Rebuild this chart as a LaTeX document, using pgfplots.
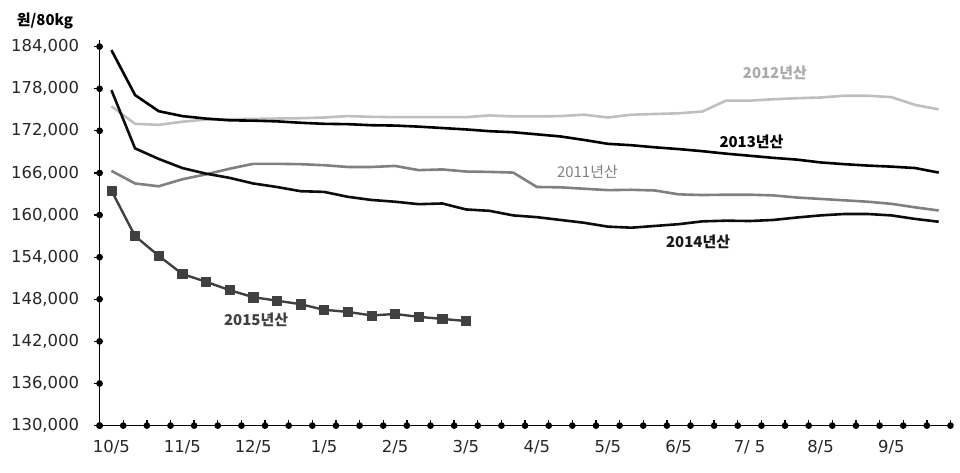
\documentclass[border=0pt]{standalone}
\usepackage{pgfplots}
\pgfplotsset{compat=1.18}
\usepackage{pgfplotstable}
\usepackage{fontspec}
\setmainfont{DejaVu Sans}
\newfontfamily\kr{Noto Sans CJK KR}
\definecolor{c11}{HTML}{808080}
\definecolor{c12}{HTML}{BFBFBF}
\definecolor{c12t}{HTML}{AAAAAA}
\definecolor{c13}{HTML}{000000}
\definecolor{c14}{HTML}{0D0D0D}
\definecolor{c15}{HTML}{404040}

\pgfplotstableread{
x y
0 166300
1 164500
2 164100
3 165100
4 165800
5 166600
6 167300
7 167300
8 167250
9 167100
10 166850
11 166850
12 167000
13 166400
14 166500
15 166200
16 166150
17 166050
18 164000
19 163950
20 163750
21 163550
22 163600
23 163500
24 162950
25 162850
26 162900
27 162900
28 162800
29 162500
30 162300
31 162100
32 161900
33 161600
34 161100
35 160650
}\tabA

\pgfplotstableread{
x y
0 175500
1 173000
2 172850
3 173300
4 173600
5 173650
6 173700
7 173750
8 173800
9 173900
10 174100
11 174000
12 173950
13 173950
14 173950
15 173950
16 174200
17 174050
18 174050
19 174100
20 174300
21 173900
22 174300
23 174400
24 174500
25 174750
26 176300
27 176300
28 176500
29 176650
30 176750
31 177000
32 177000
33 176800
34 175700
35 175050
}\tabB

\pgfplotstableread{
x y
0 183500
1 177100
2 174800
3 174100
4 173750
5 173500
6 173450
7 173350
8 173150
9 173000
10 172950
11 172800
12 172750
13 172600
14 172400
15 172200
16 171950
17 171800
18 171500
19 171200
20 170700
21 170150
22 169950
23 169650
24 169400
25 169100
26 168750
27 168450
28 168150
29 167900
30 167500
31 167250
32 167050
33 166900
34 166700
35 166050
}\tabC

\pgfplotstableread{
x y
0 177800
1 169500
2 168000
3 166700
4 165900
5 165300
6 164500
7 164000
8 163400
9 163300
10 162600
11 162150
12 161900
13 161550
14 161650
15 160800
16 160600
17 159950
18 159700
19 159300
20 158900
21 158350
22 158200
23 158450
24 158700
25 159100
26 159200
27 159150
28 159300
29 159650
30 159950
31 160150
32 160150
33 159950
34 159450
35 159050
}\tabD

\pgfplotstableread{
x y
0 163500
1 157000
2 154200
3 151600
4 150500
5 149300
6 148300
7 147800
8 147300
9 146500
10 146200
11 145700
12 145900
13 145500
14 145200
15 144900
}\tabE

\begin{document}
\begin{tikzpicture}
\useasboundingbox (0bp,0bp) rectangle (960bp,473bp);
\begin{axis}[
  at={(99.6bp,47.4bp)}, anchor=south west,
  scale only axis, width=850.9bp, height=386bp,
  xmin=-0.5, xmax=35.5, ymin=130000, ymax=185000,
  clip=false, scaled y ticks=false,
  axis x line*=bottom, axis y line*=left,
  axis line style={-, line width=0.9bp, black},
  xtick align=inside, ytick align=outside,
  major tick length=6bp,
  tick style={line width=1.3bp, black},
  xtick={-0.5,0.5,...,35.5},
  x tick label as interval,
  xticklabels={10/5,,,11/5,,,12/5,,,1/5,,,2/5,,,3/5,,,4/5,,,5/5,,,6/5,,,7/ 5,,,8/5,,,9/5,,,},
  ytick={130000,136000,142000,148000,154000,160000,166000,172000,178000,184000},
  yticklabels={{130,000},{136,000},{142,000},{148,000},{154,000},{160,000},{166,000},{172,000},{178,000},{184,000}},
  tick label style={font=\fontsize{16.5}{18}\selectfont, text=black!85},
  xticklabel style={yshift=-11bp},
  yticklabel style={xshift=-11bp},
  every axis plot/.append style={line width=2.6bp, line join=round},
]
% category boundary tick marks on the x axis (drawn as upward error bars from the axis line)
\addplot[forget plot, only marks, mark=none, error bars/.cd, y dir=plus, y explicit, error mark=none,
  error bar style={draw=black, line width=1.1bp, solid}]
coordinates {
(-0.5,130000) +- (0,850) (0.5,130000) +- (0,850) (1.5,130000) +- (0,850) (2.5,130000) +- (0,850)
(3.5,130000) +- (0,850) (4.5,130000) +- (0,850) (5.5,130000) +- (0,850) (6.5,130000) +- (0,850)
(7.5,130000) +- (0,850) (8.5,130000) +- (0,850) (9.5,130000) +- (0,850) (10.5,130000) +- (0,850)
(11.5,130000) +- (0,850) (12.5,130000) +- (0,850) (13.5,130000) +- (0,850) (14.5,130000) +- (0,850)
(15.5,130000) +- (0,850) (16.5,130000) +- (0,850) (17.5,130000) +- (0,850) (18.5,130000) +- (0,850)
(19.5,130000) +- (0,850) (20.5,130000) +- (0,850) (21.5,130000) +- (0,850) (22.5,130000) +- (0,850)
(23.5,130000) +- (0,850) (24.5,130000) +- (0,850) (25.5,130000) +- (0,850) (26.5,130000) +- (0,850)
(27.5,130000) +- (0,850) (28.5,130000) +- (0,850) (29.5,130000) +- (0,850) (30.5,130000) +- (0,850)
(31.5,130000) +- (0,850) (32.5,130000) +- (0,850) (33.5,130000) +- (0,850) (34.5,130000) +- (0,850)
(35.5,130000) +- (0,850)
};
% small outward tick marks on the y axis
\addplot[forget plot, only marks, mark=none, error bars/.cd, x dir=minus, x explicit, error mark=none,
  error bar style={draw=black, line width=1.1bp, solid}]
coordinates {
(-0.5,130000) +- (0.15,0) (-0.5,136000) +- (0.15,0) (-0.5,142000) +- (0.15,0) (-0.5,148000) +- (0.15,0)
(-0.5,154000) +- (0.15,0) (-0.5,160000) +- (0.15,0) (-0.5,166000) +- (0.15,0) (-0.5,172000) +- (0.15,0)
(-0.5,178000) +- (0.15,0) (-0.5,184000) +- (0.15,0)
};
\addplot[c11, no markers] table[x=x,y=y] {\tabA};
\addplot[c12, no markers] table[x=x,y=y] {\tabB};
\addplot[c13, no markers] table[x=x,y=y] {\tabC};
\addplot[c14, no markers] table[x=x,y=y] {\tabD};
\addplot[c15, line width=2.4bp, mark=square*, mark size=4.6bp, mark options={solid, fill=c15, line width=0.5bp}] table[x=x,y=y] {\tabE};

\node[font=\kr\fontsize{15}{15}\selectfont\bfseries, text=c12t] at (axis cs:28.07,180200) {2012년산};
\node[font=\kr\fontsize{15}{15}\selectfont\bfseries, text=black] at (axis cs:27.08,170500) {2013년산};
\node[font=\kr\fontsize{15}{15}\selectfont, text=c11] at (axis cs:20.14,166200) {2011년산};
\node[font=\kr\fontsize{15}{15}\selectfont\bfseries, text=black!90] at (axis cs:24.82,156150) {2014년산};
\node[font=\kr\fontsize{15}{15}\selectfont\bfseries, text=c15] at (axis cs:6.12,145050) {2015년산};
\end{axis}
\node[font=\kr\fontsize{15}{15}\selectfont\bfseries, text=black] at (45bp,452.5bp) {원/80kg};
\end{tikzpicture}
\end{document}
